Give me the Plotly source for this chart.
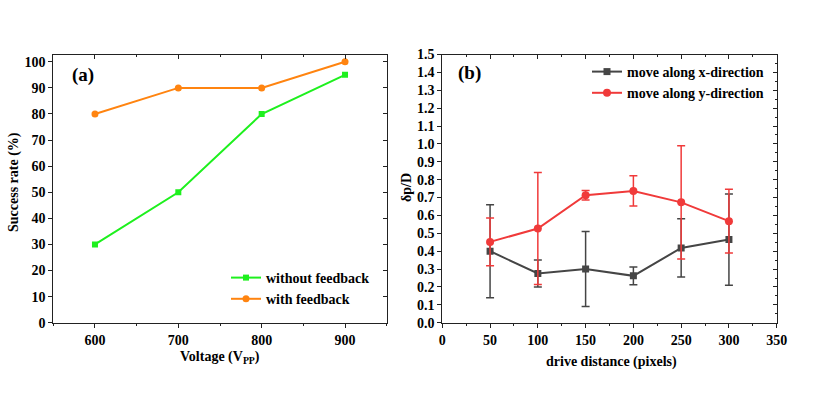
import plotly.graph_objects as go

# Panel (a)
voltage = [600, 700, 800, 900]
without_fb = [30, 50, 80, 95]
with_fb = [80, 90, 90, 100]

# Panel (b)
drive = [50, 100, 150, 200, 250, 300]
x_dir = [0.40, 0.275, 0.30, 0.262, 0.418, 0.465]
x_err = [0.26, 0.075, 0.21, 0.05, 0.163, 0.255]
y_dir = [0.452, 0.527, 0.713, 0.737, 0.673, 0.568]
y_err = [0.134, 0.313, 0.027, 0.085, 0.317, 0.178]

GREEN = "#1ef01e"
ORANGE = "#ff8410"
GRAY = "#454545"
RED = "#f03a3a"
FONT = "Liberation Serif"
W, H = 839, 396

fig = go.Figure()

fig.add_trace(go.Scatter(x=voltage, y=without_fb, mode="lines+markers", name="<b>without feedback</b>",
                         line=dict(color=GREEN, width=2), marker=dict(symbol="square", size=6, color=GREEN),
                         xaxis="x", yaxis="y", legend="legend"))
fig.add_trace(go.Scatter(x=voltage, y=with_fb, mode="lines+markers", name="<b>with feedback</b>",
                         line=dict(color=ORANGE, width=2), marker=dict(symbol="circle", size=7, color=ORANGE),
                         xaxis="x", yaxis="y", legend="legend"))

fig.add_trace(go.Scatter(x=drive, y=x_dir, mode="lines+markers", name="<b>move along x-direction</b>",
                         line=dict(color=GRAY, width=2), marker=dict(symbol="square", size=7, color=GRAY),
                         error_y=dict(type="data", array=x_err, color=GRAY, thickness=1.5, width=4),
                         xaxis="x2", yaxis="y2", legend="legend2"))
fig.add_trace(go.Scatter(x=drive, y=y_dir, mode="lines+markers", name="<b>move along y-direction</b>",
                         line=dict(color=RED, width=2), marker=dict(symbol="circle", size=8, color=RED),
                         error_y=dict(type="data", array=y_err, color=RED, thickness=1.5, width=4),
                         xaxis="x2", yaxis="y2", legend="legend2"))

# helper empty traces to activate mirror axes
for xa, ya in [("x3", "y"), ("x", "y3"), ("x4", "y2"), ("x2", "y4")]:
    fig.add_trace(go.Scatter(x=[], y=[], xaxis=xa, yaxis=ya, showlegend=False, hoverinfo="skip"))

tickfont = dict(family=FONT, size=14, color="black")
titlefont = dict(family=FONT, size=14, color="black")
ax_common = dict(showline=True, linecolor="#222", linewidth=1, showgrid=False, zeroline=False,
                 tickfont=tickfont, tickcolor="#222", tickwidth=1, automargin=False)

da = [53.3 / W, 386.7 / W]
db = [442.3 / W, 776.7 / W]
dy = [1 - 322.7 / H, 1 - 54.5 / H]

yt_a = list(range(0, 101, 10))
xt_b = list(range(0, 351, 50))
yt_b = [i / 10 for i in range(16)]


def px(x, y):
    return x / W, 1 - y / H


annotations = []
for text, (x, y), size, ang in [
    ("<b>(a)</b>", (70, 75), 19, 0),
    ("<b>(b)</b>", (456, 73), 19, 0),
]:
    ax_, ay_ = px(x, y)
    annotations.append(dict(text=text, x=ax_, y=ay_, xref="paper", yref="paper", xanchor="left",
                            yanchor="middle", showarrow=False, textangle=ang,
                            font=dict(family=FONT, size=size, color="black")))
for text, (x, y), ang in [
    ("<b>Success rate (%)</b>", (14, 182), -90),
    ("<b>Voltage (V<sub>PP</sub>)</b>", (219.6, 357), 0),
    ("<b>drive distance (pixels)</b>", (611, 361.5), 0),
    ("<b>δp/D</b>", (407, 188), -90),
]:
    ax_, ay_ = px(x, y)
    annotations.append(dict(text=text, x=ax_, y=ay_, xref="paper", yref="paper", xanchor="center",
                            yanchor="middle", showarrow=False, textangle=ang, font=titlefont))

lx_a, ly_a = px(226, 262)
lx_b, ly_b = px(587, 56)

fig.update_layout(
    width=W, height=H, margin=dict(l=0, r=0, t=0, b=0, autoexpand=False),
    paper_bgcolor="white", plot_bgcolor="white",
    font=dict(family=FONT, color="black"),
    xaxis=dict(domain=da, range=[550, 950], tickvals=voltage, ticktext=[f"<b>{v}</b>" for v in voltage],
               ticks="outside", ticklen=4, anchor="y",
               minor=dict(ticks="outside", ticklen=2, tick0=550, dtick=50, tickcolor="#222"), **ax_common),
    yaxis=dict(domain=dy, range=[0, 102.8], tickvals=yt_a, ticktext=[f"<b>{v}</b>" for v in yt_a],
               ticks="outside", ticklen=4, anchor="x", **ax_common),
    xaxis3=dict(overlaying="x", side="top", anchor="y", range=[550, 950], tickvals=voltage,
                showticklabels=False, ticks="inside", ticklen=4,
                minor=dict(ticks="inside", ticklen=2, tick0=550, dtick=50, tickcolor="#222"), **ax_common),
    yaxis3=dict(overlaying="y", side="right", anchor="x", range=[0, 102.8], tickvals=yt_a,
                showticklabels=False, ticks="inside", ticklen=4, **ax_common),
    xaxis2=dict(domain=db, range=[0, 350], tickvals=xt_b, ticktext=[f"<b>{v}</b>" for v in xt_b],
                ticks="outside", ticklen=4, anchor="y2",
                minor=dict(ticks="outside", ticklen=2, tick0=0, dtick=25, tickcolor="#222"), **ax_common),
    yaxis2=dict(domain=dy, range=[0, 1.5], tickvals=yt_b, ticktext=[f"<b>{v:.1f}</b>" for v in yt_b],
                ticks="outside", ticklen=4, anchor="x2", **ax_common),
    xaxis4=dict(overlaying="x2", side="top", anchor="y2", range=[0, 350], tickvals=xt_b,
                showticklabels=False, ticks="inside", ticklen=4,
                minor=dict(ticks="inside", ticklen=2, tick0=0, dtick=25, tickcolor="#222"), **ax_common),
    yaxis4=dict(overlaying="y2", side="right", anchor="x2", range=[0, 1.5], tickvals=yt_b,
                showticklabels=False, ticks="inside", ticklen=4,
                minor=dict(ticks="inside", ticklen=2, tick0=0, dtick=0.05, tickcolor="#222"), **ax_common),
    legend=dict(x=lx_a, y=ly_a, xanchor="left", yanchor="top", bgcolor="rgba(0,0,0,0)",
                font=dict(family=FONT, size=14, color="black"), tracegroupgap=0, itemwidth=30),
    legend2=dict(x=lx_b, y=ly_b, xanchor="left", yanchor="top", bgcolor="rgba(0,0,0,0)",
                 font=dict(family=FONT, size=14, color="black"), tracegroupgap=0, itemwidth=30),
    showlegend=True,
    annotations=annotations,
)

fig.write_html("out.html", config={"displayModeBar": False},
               post_script="document.body.style.margin='0';")
